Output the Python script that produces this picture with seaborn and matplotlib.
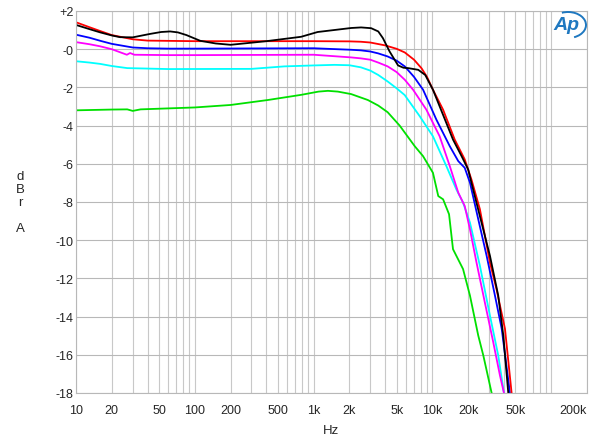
import matplotlib
matplotlib.use("Agg")
import matplotlib.pyplot as plt
import seaborn as sns
import pandas as pd
from matplotlib.ticker import LogLocator, MultipleLocator, NullFormatter
from matplotlib.patches import Arc

# data (Hz, dBr)
red_f = [10, 13, 16, 20, 30, 40, 100, 300, 1000, 2000, 2500, 3000, 4000, 5000, 5850, 7000, 8100, 9000,
         10100, 12300, 15400, 18700, 21300, 25100, 30500, 34600, 40800, 46400, 50000]
red_db = [1.41, 1.15, 0.95, 0.74, 0.52, 0.45, 0.42, 0.42, 0.42, 0.41, 0.39, 0.35, 0.2, 0.02, -0.17,
          -0.55, -1.0, -1.45, -2.12, -3.17, -4.73, -5.77, -6.82, -8.38, -11.17, -12.56, -14.64,
          -18.0, -20.0]

black_f = [10, 13, 16, 20, 23.5, 30, 42, 52, 62, 72, 85, 111, 150, 200, 400, 785, 1080, 2070, 2510,
           3050, 3500, 3830, 4360, 5140, 5700, 6240, 7600, 8700, 10100, 14900, 17600, 20000, 22000,
           25900, 30500, 35800, 39500, 43500, 47000]
black_db = [1.27, 1.05, 0.88, 0.72, 0.63, 0.62, 0.8, 0.9, 0.93, 0.88, 0.74, 0.44, 0.3, 0.23, 0.42, 0.65,
            0.9, 1.11, 1.14, 1.1, 0.93, 0.58, -0.12, -0.85, -0.97, -0.99, -1.08, -1.35, -2.12,
            -4.73, -5.6, -6.3, -7.34, -9.08, -10.82, -12.9, -14.99, -18.0, -20.0]

blue_f = [10, 13, 16, 20, 30, 40, 60, 100, 1000, 2070, 2500, 3000, 3500, 4200, 5000, 5850, 7000, 8340,
          10800, 14000, 16500, 18700, 20700, 24300, 28600, 33600, 38300, 44900, 48000]
blue_db = [0.76, 0.6, 0.44, 0.28, 0.09, 0.05, 0.03, 0.03, 0.05, -0.03, -0.06, -0.12, -0.22, -0.38,
           -0.6, -0.9, -1.45, -2.12, -3.69, -5.08, -5.86, -6.21, -6.99, -8.9, -10.82, -12.9,
           -14.64, -18.0, -20.0]

magenta_f = [10, 13, 16, 20, 26.8, 28.5, 31, 60, 100, 1000, 2070, 2500, 3000, 3500, 4200, 5000, 5850,
             6870, 8900, 11500, 14000, 16500, 18700, 20700, 23500, 27600, 32500, 37000, 40000, 42000]
magenta_db = [0.37, 0.26, 0.15, 0.0, -0.29, -0.2, -0.29, -0.31, -0.31, -0.29, -0.43, -0.48, -0.55,
              -0.7, -0.9, -1.2, -1.6, -2.12, -3.17, -4.56, -6.12, -7.51, -8.21, -9.43, -11.17,
              -13.25, -15.34, -17.08, -18.0, -19.5]

cyan_f = [10, 13, 16, 20, 27, 60, 300, 566, 1000, 1500, 2000, 2500, 3000, 3500, 4200, 5000, 5840, 7820,
          10100, 13100, 15900, 18100, 20700, 25100, 30500, 35800, 40000, 42000]
cyan_db = [-0.63, -0.7, -0.77, -0.88, -0.99, -1.04, -1.03, -0.9, -0.85, -0.82, -0.84, -0.95, -1.12,
           -1.35, -1.69, -2.05, -2.4, -3.51, -4.56, -6.12, -7.34, -8.03, -9.08, -11.34, -13.95,
           -16.03, -18.0, -19.5]

green_f = [10, 20, 27, 30, 35, 100, 200, 412, 785, 1100, 1320, 1600, 2070, 2860, 3500, 4200, 5300, 7100,
           8340, 10100, 11200, 12300, 13800, 14900, 18100, 20700, 24300, 26800, 31500, 34000]
green_db = [-3.2, -3.16, -3.15, -3.23, -3.15, -3.05, -2.92, -2.66, -2.39, -2.22, -2.18, -2.22, -2.35,
            -2.66, -2.95, -3.3, -4.0, -5.08, -5.6, -6.47, -7.69, -7.86, -8.64, -10.47, -11.51,
            -12.9, -14.99, -16.03, -18.0, -19.5]

series = [
    ("green", green_f, green_db, "#00e000"),
    ("cyan", cyan_f, cyan_db, "#00ffff"),
    ("magenta", magenta_f, magenta_db, "#ff00ff"),
    ("blue", blue_f, blue_db, "#0000ff"),
    ("red", red_f, red_db, "#ff0000"),
    ("black", black_f, black_db, "#000000"),
]

frames = []
for name, f, db, _ in series:
    frames.append(pd.DataFrame({"trace": name, "Hz": f, "dBr": db}))
df = pd.concat(frames, ignore_index=True)
palette = {name: c for name, _, _, c in series}

sns.set_style("white")
plt.rcParams["font.family"] = ["Liberation Sans", "DejaVu Sans"]

fig = plt.figure(figsize=(6, 4.39), dpi=100)
ax = fig.add_axes([76 / 600, 1 - 394 / 439, (587 - 76) / 600, (394 - 12) / 439])

sns.lineplot(data=df, x="Hz", y="dBr", hue="trace", palette=palette, sort=False,
             estimator=None, linewidth=1.3, legend=False, ax=ax)

ax.set_xscale("log")
ax.set_xlim(10, 200000)
ax.set_ylim(-18, 2)

# grid
ax.xaxis.set_minor_locator(LogLocator(base=10, subs=range(1, 10), numticks=20))
ax.xaxis.set_minor_formatter(NullFormatter())
ax.grid(which="both", axis="x", color="#c8c8c8", linewidth=0.8)
ax.grid(which="major", axis="y", color="#b8b8b8", linewidth=0.8)
ax.set_axisbelow(True)

xt = [10, 20, 50, 100, 200, 500, 1e3, 2e3, 5e3, 1e4, 2e4, 5e4, 2e5]
xl = ["10", "20", "50", "100", "200", "500", "1k", "2k", "5k", "10k", "20k", "50k", "200k"]
ax.set_xticks(xt)
ax.set_xticklabels(xl)
ax.get_xticklabels()[-1].set_horizontalalignment("right")
yt = list(range(-18, 3, 2))
yl = ["+2" if v > 0 else "-" + str(abs(v)) for v in yt]
ax.set_yticks(yt)
ax.set_yticklabels(yl)
ax.yaxis.set_minor_locator(MultipleLocator(0.2))
ax.tick_params(axis="both", which="major", length=0, labelsize=9)
ax.tick_params(axis="y", which="major", pad=2)
ax.tick_params(axis="x", which="major", pad=8)
ax.tick_params(axis="x", which="minor", length=0)
ax.tick_params(axis="y", which="minor", direction="in", length=5, color="#c8c8c8", width=0.8)

for s in ax.spines.values():
    s.set_color("#b8b8b8")
    s.set_linewidth(0.8)

ax.set_xlabel("Hz", fontsize=9.5, labelpad=6)
ax.set_ylabel("")
fig.text(20 / 600, 1 - 203 / 439, "d\nB\nr\n\nA", ha="center", va="center", fontsize=9.5,
         linespacing=1.1)

# Ap logo
fig.text(566 / 600, 1 - 26 / 439, "Ap", color="#1f78c0", fontsize=14, fontstyle="italic",
         fontweight="bold", ha="center", va="center")
fig.add_artist(Arc((568 / 600, 1 - 26 / 439), 36 / 600, 26 / 439, theta1=-70, theta2=110,
                   color="#1f78c0", linewidth=1.4, transform=fig.transFigure))

fig.savefig("out.png", dpi=100)
